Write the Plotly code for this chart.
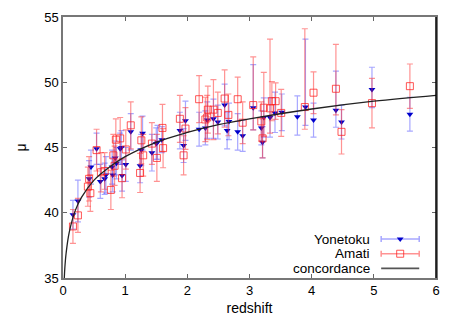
import plotly.graph_objects as go

# Yonetoku relation
yon_z = [0.16, 0.24, 0.42, 0.45, 0.54, 0.60, 0.67, 0.69, 0.79, 0.80, 0.84, 0.86, 0.92, 0.94, 0.95,
         1.01, 1.09, 1.24, 1.26, 1.28, 1.43, 1.50, 1.52, 1.59, 1.88, 1.94, 1.97, 2.19, 2.29, 2.32,
         2.42, 2.49, 2.60, 2.64, 2.67, 2.81, 2.89, 3.06, 3.19, 3.21, 3.23, 3.33, 3.41, 3.52, 3.77,
         3.90, 4.03, 4.39, 4.48, 4.97, 5.58]
yon_mu = [39.85, 40.9, 42.6, 43.5, 44.9, 42.4, 42.6, 42.9, 43.5, 42.9, 44.2, 43.8, 44.9, 45.0, 42.85,
          43.7, 46.2, 43.6, 44.8, 46.1, 44.6, 45.3, 45.4, 45.6, 46.3, 45.15, 47.05, 46.4, 46.5, 47.1,
          47.2, 46.95, 48.25, 46.3, 47.0, 46.2, 45.9, 48.05, 46.5, 45.4, 47.3, 47.3, 47.65, 47.7, 47.35,
          48.1, 47.1, 47.85, 46.95, 49.45, 47.55]
yon_err_up = [1.1, 1.6, 1.4, 1.3, 1.2, 1.3, 1.2, 1.4, 1.3, 1.3, 1.3, 1.2, 1.2, 1.3, 1.2,
              1.3, 1.4, 1.3, 1.2, 1.3, 1.4, 1.2, 1.3, 1.0, 1.4, 1.3, 1.5, 1.3, 1.3, 1.4,
              1.5, 1.3, 1.6, 1.4, 1.4, 1.4, 1.2, 3.3, 1.3, 1.2, 1.5, 1.5, 1.6, 1.4, 1.6,
              5.2, 1.3, 3.0, 1.3, 1.7, 1.3]
yon_err_dn = [1.1, 1.6, 1.4, 1.3, 1.2, 1.3, 1.2, 1.4, 1.3, 1.3, 1.3, 1.2, 1.2, 1.3, 1.2,
              1.3, 1.4, 1.3, 1.2, 1.3, 1.4, 1.2, 1.3, 1.0, 1.4, 1.3, 1.5, 1.3, 1.3, 1.4,
              1.5, 1.3, 1.6, 1.4, 1.4, 1.4, 1.2, 1.7, 1.3, 1.2, 1.5, 1.5, 1.5, 1.4, 1.4,
              1.4, 1.3, 1.3, 1.3, 1.4, 1.3]

# Amati relation
ama_z = [0.16, 0.24, 0.40, 0.42, 0.44, 0.54, 0.61, 0.67, 0.77, 0.81, 0.83, 0.85, 0.92, 0.95, 1.01,
         1.09, 1.24, 1.26, 1.29, 1.43, 1.51, 1.60, 1.61, 1.88, 1.94, 1.97, 2.19, 2.29, 2.32, 2.33,
         2.42, 2.49, 2.60, 2.66, 2.81, 2.89, 3.06, 3.19, 3.21, 3.23, 3.33, 3.36, 3.42, 3.51, 3.89,
         4.03, 4.39, 4.48, 4.97, 5.58]
ama_mu = [38.95, 39.8, 42.0, 42.6, 41.5, 44.8, 43.1, 43.2, 41.75, 44.4, 43.6, 45.6, 45.7, 42.65, 44.85,
          46.7, 43.05, 45.55, 44.4, 45.3, 44.2, 46.5, 44.95, 47.2, 44.4, 46.45, 48.7, 47.15, 47.3, 47.9,
          47.9, 47.65, 48.75, 47.5, 48.7, 46.9, 48.25, 47.0, 45.7, 48.05, 48.0, 48.55, 48.55, 47.65, 48.1,
          49.2, 49.5, 46.2, 48.4, 49.7]
ama_err_up = [1.3, 1.3, 1.5, 1.7, 1.4, 1.6, 1.5, 1.4, 1.5, 1.6, 1.5, 1.6, 1.6, 1.5, 1.5,
              1.8, 1.5, 1.8, 1.6, 1.6, 1.8, 1.8, 1.5, 1.8, 1.5, 1.6, 1.8, 1.7, 1.7, 1.8,
              2.3, 1.6, 2.2, 1.6, 1.7, 1.6, 3.7, 1.5, 1.5, 2.7, 5.3, 1.5, 1.4, 1.8, 6.0,
              1.6, 3.4, 1.7, 1.9, 1.7]
ama_err_dn = [1.3, 1.3, 1.5, 1.7, 1.4, 1.6, 1.5, 1.4, 1.5, 1.6, 1.5, 1.6, 1.6, 1.5, 1.5,
              1.8, 1.5, 1.8, 1.6, 1.6, 1.8, 1.8, 1.5, 1.8, 1.5, 1.6, 1.8, 1.7, 1.7, 1.8,
              2.3, 1.6, 2.2, 1.6, 1.7, 1.6, 1.9, 1.5, 1.5, 2.2, 1.9, 1.5, 1.4, 1.8, 1.7,
              1.6, 2.0, 1.7, 1.9, 1.7]

# concordance model
conc_z = [0.01, 0.02, 0.03, 0.05, 0.1, 0.2, 0.3, 0.5, 0.75, 1.0, 1.5, 2.0, 2.5, 3.0, 4.0, 5.0, 6.0]
conc_mu = [33.4, 34.9, 35.8, 36.9, 38.5, 40.2, 41.2, 42.5, 43.5, 44.3, 45.4, 46.15, 46.75, 47.2, 47.95,
           48.55, 49.0]

blue_bar = 'rgba(60,60,255,0.45)'
red_bar = 'rgba(255,40,40,0.5)'
font = 'Liberation Sans, Arial, sans-serif'

fig = go.Figure()

fig.add_trace(go.Scatter(
    x=yon_z, y=yon_mu, mode='markers', name='Yonetoku', showlegend=False,
    marker=dict(symbol='triangle-down', size=6, color='#0000cc'),
    error_y=dict(type='data', array=yon_err_up, arrayminus=yon_err_dn, symmetric=False,
                 color=blue_bar, thickness=1.2, width=3)
))
fig.add_trace(go.Scatter(
    x=ama_z, y=ama_mu, mode='markers', name='Amati', showlegend=False,
    marker=dict(symbol='square-open', size=7, color='rgba(255,30,30,0.75)', line=dict(width=1)),
    error_y=dict(type='data', array=ama_err_up, arrayminus=ama_err_dn, symmetric=False,
                 color=red_bar, thickness=1.2, width=3)
))
fig.add_trace(go.Scatter(
    x=conc_z, y=conc_mu, mode='lines', name='concordance', showlegend=False,
    line=dict(color='#222222', width=1.3, shape='spline')
))

# gnuplot style key (text left, sample right)
key_names = ['Yonetoku', 'Amati', 'concordance']
key_y = [0.149, 0.093, 0.037]
fig.add_trace(go.Scatter(
    x=[0.904], y=[key_y[0]], xaxis='x2', yaxis='y2', mode='markers', showlegend=False,
    marker=dict(symbol='triangle-down', size=6, color='#0000cc'),
    error_x=dict(type='constant', value=0.051, color=blue_bar, thickness=1.5, width=3)
))
fig.add_trace(go.Scatter(
    x=[0.904], y=[key_y[1]], xaxis='x2', yaxis='y2', mode='markers', showlegend=False,
    marker=dict(symbol='square-open', size=7, color='rgba(255,30,30,0.75)', line=dict(width=1)),
    error_x=dict(type='constant', value=0.051, color=red_bar, thickness=1.5, width=3)
))
fig.add_trace(go.Scatter(
    x=[0.853, 0.955], y=[key_y[2], key_y[2]], xaxis='x2', yaxis='y2', mode='lines',
    showlegend=False, line=dict(color='#555555', width=1.6)
))
for name, yk in zip(key_names, key_y):
    fig.add_annotation(x=0.826, y=yk, xref='paper', yref='paper', text=name, showarrow=False,
                       xanchor='right', yanchor='middle', borderpad=0,
                       font=dict(family=font, size=13.5, color='black'))

# the page body adds an 8px offset, so the figure is 8px smaller and shifted
fig.update_layout(
    width=450, height=313,
    margin=dict(l=55, r=22, t=9, b=43, autoexpand=False),
    paper_bgcolor='white', plot_bgcolor='white',
    font=dict(family=font, size=13, color='black'),
    showlegend=False,
    xaxis=dict(range=[0, 6], dtick=1, ticks='inside', ticklen=4, tickcolor='#666',
               showline=True, linecolor='#777', linewidth=1.5, mirror='allticks',
               showgrid=False, zeroline=False, automargin=False,
               title=dict(text='redshift', font=dict(size=14), standoff=6)),
    yaxis=dict(range=[35, 55], dtick=5, ticks='inside', ticklen=4, tickcolor='#666',
               showline=True, linecolor='#777', linewidth=1.5, mirror='allticks',
               showgrid=False, zeroline=False, automargin=False,
               title=dict(text='μ', font=dict(size=14), standoff=14)),
    xaxis2=dict(overlaying='x', range=[0, 1], visible=False),
    yaxis2=dict(overlaying='y', range=[0, 1], visible=False),
)
fig.add_shape(type='line', xref='paper', yref='paper', x0=1, x1=1, y0=0, y1=1,
              line=dict(color='black', width=1.5))

fig.write_html("out.html")
